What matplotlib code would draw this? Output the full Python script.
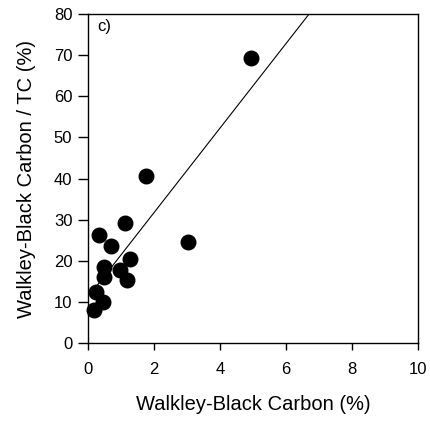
import matplotlib
matplotlib.use("Agg")
import matplotlib.pyplot as plt
import numpy as np

plt.rcParams['font.family'] = ['Liberation Sans', 'DejaVu Sans']

# Walkley-Black carbon (%) vs WB carbon / TC (%)
wb_carbon = [4.93, 1.76, 3.02, 1.11, 0.34, 0.70, 1.28, 0.49, 0.95, 0.49, 1.19, 0.24, 0.46, 0.17]
wb_ratio = [69.3, 40.7, 24.5, 29.3, 26.4, 23.6, 20.6, 18.6, 17.8, 16.0, 15.3, 12.4, 10.1, 8.0]

# regression line
slope = 10.25
intercept = 11.3

fig = plt.figure(figsize=(4.3, 4.23), dpi=100)
ax = fig.add_axes([88.3 / 430, (423 - 343.3) / 423, 329.4 / 430, 329.3 / 423])

xs = np.array([min(wb_carbon), 10])
ax.plot(xs, slope * xs + intercept, color='black', lw=0.8, zorder=2)
ax.scatter(wb_carbon, wb_ratio, s=110, color='black', zorder=3, clip_on=False)

ax.set_xlim(0, 10)
ax.set_ylim(0, 80)
ax.set_xticks(range(0, 11, 2))
ax.set_yticks(range(0, 81, 10))
ax.tick_params(axis='both', labelsize=12, width=1, color='black')
ax.tick_params(axis='x', length=5, pad=8.5)
ax.tick_params(axis='y', length=7.5, pad=4)
for s in ax.spines.values():
    s.set_linewidth(1)

ax.set_xlabel("Walkley-Black Carbon (%)", fontsize=14.5, labelpad=13)
ax.set_ylabel("Walkley-Black Carbon / TC (%)", fontsize=14.5, labelpad=13)
ax.text(0.026, 0.985, "c)", transform=ax.transAxes, fontsize=12, va='top', ha='left')

plt.savefig("out.png", dpi=100)
